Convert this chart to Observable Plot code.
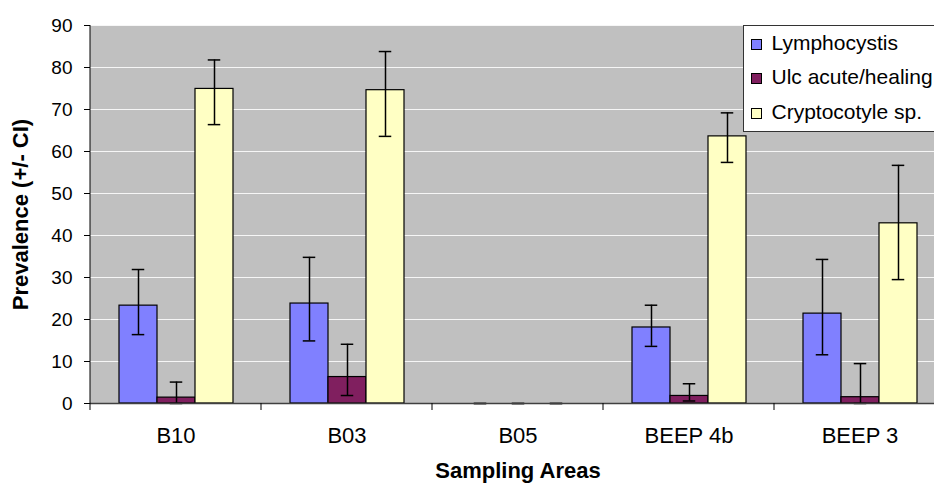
<!DOCTYPE html>
<html>
<head>
<meta charset="utf-8">
<script src="https://cdn.jsdelivr.net/npm/d3@7"></script>
<script src="https://cdn.jsdelivr.net/npm/@observablehq/plot@0.6"></script>
<style>
  html, body { margin: 0; padding: 0; background: #fff; overflow: hidden; }
  #wrap { position: relative; width: 934px; height: 484px; overflow: hidden; }
  #wrap svg { max-width: none !important; display: block; }
  g[aria-label="y-axis label"] text, g[aria-label="fx-axis label"] text { font-weight: bold; font-size: 22px; }
  #legend { position: absolute; left: 743px; top: 25px; width: 240px; height: 107px; box-sizing: border-box;
            border: 1.5px solid #333; background: #fff; font-family: "Liberation Sans", Arial, sans-serif;
            font-size: 21px; line-height: 34.3px; color: #000; }
  .item { display: flex; align-items: baseline; white-space: nowrap; padding-left: 6.5px; }
  .sw { display: inline-block; width: 11px; height: 11px; border: 1px solid #000; box-sizing: border-box; margin-right: 10px; }
</style>
</head>
<body>
<div id="wrap"></div>
<script>
const areas = ["B10", "B03", "B05", "BEEP 4b", "BEEP 3"];
const series = ["Lymphocystis", "Ulc acute/healing", "Cryptocotyle sp."];
const colors = ["#8080ff", "#801f5f", "#ffffc4"];

const lympho   = [23.3, 23.8, 0, 18.1, 21.4];
const lymphoLo = [16.4, 14.9, 0, 13.6, 11.6];
const lymphoHi = [31.9, 34.8, 0, 23.4, 34.3];

const ulc   = [1.4, 6.3, 0, 1.8, 1.5];
const ulcLo = [0.0, 1.9, 0, 0.6, 0.0];
const ulcHi = [5.1, 14.1, 0, 4.7, 9.5];

const crypto   = [74.9, 74.6, 0, 63.6, 42.9];
const cryptoLo = [66.4, 63.6, 0, 57.4, 29.5];
const cryptoHi = [81.8, 83.8, 0, 69.2, 56.7];

const yTicks = [0, 10, 20, 30, 40, 50, 60, 70, 80, 90];

const vals = [lympho, ulc, crypto];
const lows = [lymphoLo, ulcLo, cryptoLo];
const highs = [lymphoHi, ulcHi, cryptoHi];
const rows = areas.flatMap((a, i) => series.map((s, j) => ({
  area: a, series: s, value: vals[j][i], lo: lows[j][i], hi: highs[j][i]
})));

const chart = Plot.plot({
  width: 946,
  height: 484,
  marginTop: 25,
  marginLeft: 88,
  marginRight: 0,
  marginBottom: 81,
  style: { fontFamily: "Liberation Sans, Arial, sans-serif", background: "transparent" },
  fx: { domain: areas, padding: 0, label: null },
  x: { domain: series, paddingInner: 0, paddingOuter: 0.73, axis: null },
  y: { domain: [0, 90] },
  color: { domain: series, range: colors },
  marks: [
    Plot.gridY(yTicks, { stroke: "#ffffff", strokeOpacity: 0.85, strokeWidth: 1 }),
    Plot.barY(rows, { fx: "area", x: "series", y: "value", fill: "series", stroke: "#000", strokeWidth: 1.2 }),
    Plot.ruleX(rows, { fx: "area", x: "series", y1: "lo", y2: "hi", stroke: "#000", strokeWidth: 1.5 }),
    Plot.tickY(rows, { fx: "area", x: "series", y: "lo", inset: 12.75, stroke: "#000", strokeWidth: 1.5 }),
    Plot.tickY(rows, { fx: "area", x: "series", y: "hi", inset: 12.75, stroke: "#000", strokeWidth: 1.5 }),
    Plot.ruleY([0], { stroke: "#404040", strokeWidth: 1.5 }),
    Plot.axisY(yTicks, { tickSize: 6, tickPadding: 12, fontSize: 19, label: "Prevalence (+/- CI)",
      labelAnchor: "center", labelOffset: 78, labelArrow: "none" }),
    Plot.axisFx({ anchor: "bottom", tickSize: 0, tickPadding: 24, fontSize: 22, label: "Sampling Areas",
      labelAnchor: "center", labelOffset: 74, labelArrow: "none" })
  ]
});

// Plot-area background, left axis line and category boundary ticks, from the plot's own scales
const fxS = chart.scale("fx");
const yS = chart.scale("y");
const svg = d3.select(chart);
const y0 = yS.apply(0), yTop = yS.apply(90);
const bounds = areas.map(a => fxS.apply(a)).concat([fxS.apply(areas[areas.length - 1]) + fxS.bandwidth]);
svg.insert("rect", ":first-child")
  .attr("x", bounds[0]).attr("y", yTop)
  .attr("width", bounds[bounds.length - 1] - bounds[0]).attr("height", y0 - yTop)
  .attr("fill", "#c0c0c0");
const g = svg.append("g").attr("stroke", "#000").attr("stroke-width", 1);
g.append("line").attr("x1", bounds[0]).attr("x2", bounds[0]).attr("y1", yTop).attr("y2", y0);
g.selectAll("line.bt").data(bounds).join("line").attr("class", "bt")
  .attr("x1", d => d).attr("x2", d => d).attr("y1", y0).attr("y2", y0 + 7);

const wrap = document.getElementById("wrap");
wrap.appendChild(chart);

const legend = document.createElement("div");
legend.id = "legend";
series.forEach((s, j) => {
  const it = document.createElement("div");
  it.className = "item";
  const sw = document.createElement("span");
  sw.className = "sw";
  sw.style.background = colors[j];
  const t = document.createElement("span");
  t.textContent = s;
  it.appendChild(sw);
  it.appendChild(t);
  legend.appendChild(it);
});
wrap.appendChild(legend);
</script>
</body>
</html>
